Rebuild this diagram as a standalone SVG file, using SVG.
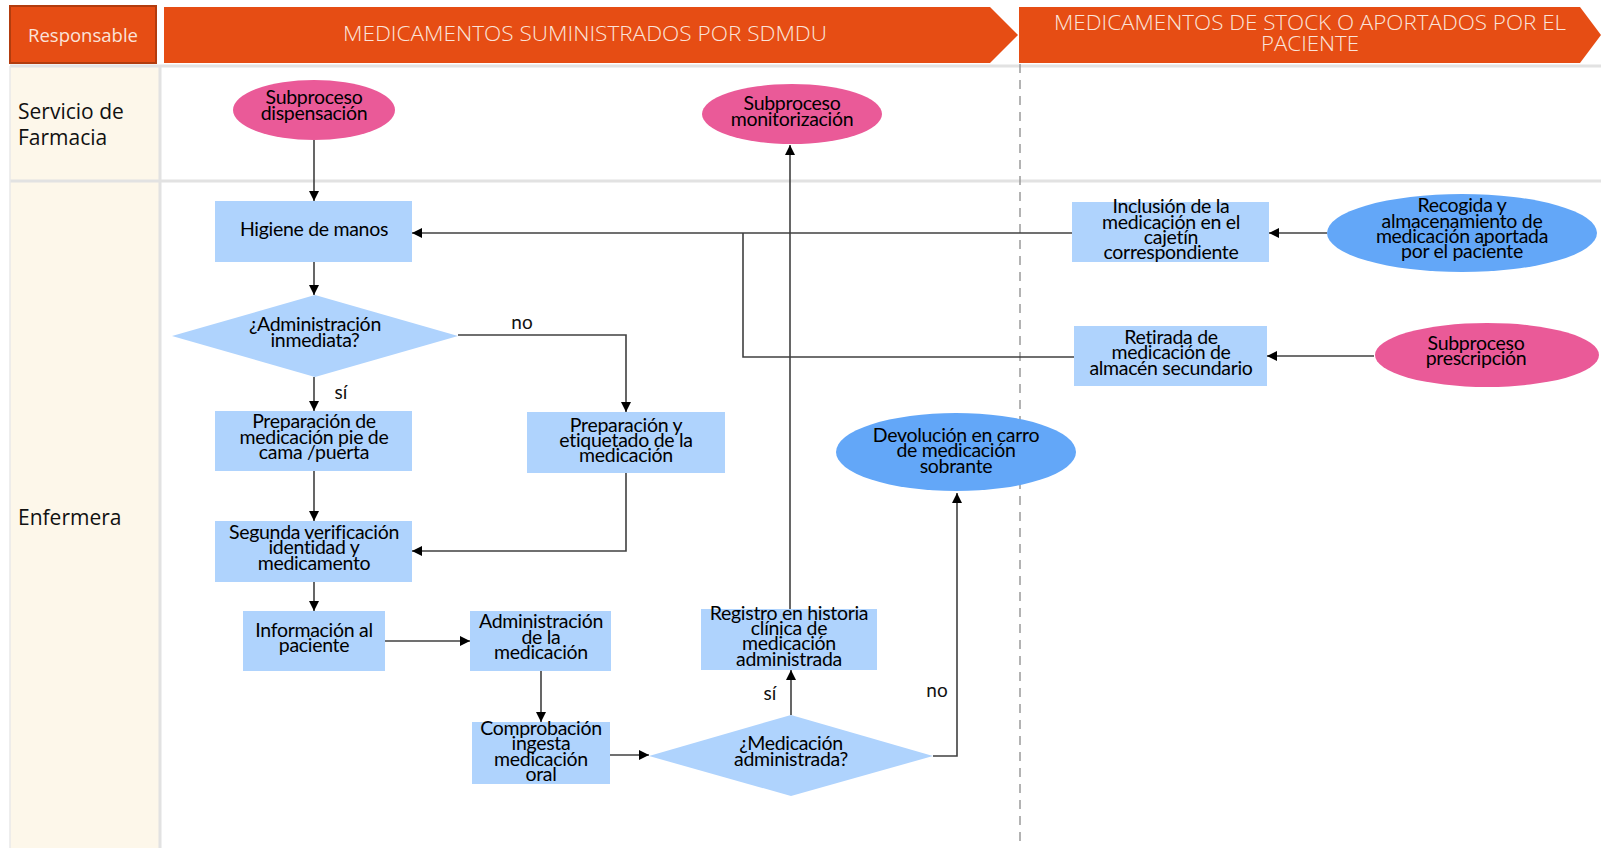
<svg xmlns="http://www.w3.org/2000/svg" width="1601" height="848" viewBox="0 0 1601 848">
<defs>
<marker id="ah" viewBox="0 0 10 10" refX="10" refY="5" markerWidth="10" markerHeight="10" markerUnits="userSpaceOnUse" orient="auto">
<path d="M0,0 L10,5 L0,10 z" fill="#000"/>
</marker>
<style>
.hdr{fill:#E64D14}
.htxt{font-family:"Open Sans",sans-serif;font-weight:300;fill:#FBE3D9;font-size:21px;text-anchor:middle}
.lane{font-family:"Open Sans",sans-serif;font-size:21px;fill:#111}
.box{fill:#AFD3FD}
.pink{fill:#EA5A98}
.blue{fill:#63A7F8}
.t{font-family:Lato,"Open Sans",sans-serif;font-size:19.5px;fill:#000;text-anchor:middle;letter-spacing:-0.3px}
.lbl{font-family:Lato,"Open Sans",sans-serif;font-size:19px;fill:#111;text-anchor:middle}
.c{fill:none;stroke:#404040;stroke-width:1.6;marker-end:url(#ah)}
.cn{fill:none;stroke:#404040;stroke-width:1.6}
</style>
</defs>
<rect width="1601" height="848" fill="#fff"/>
<!-- lanes -->
<g id="lanes">
<rect x="10" y="66" width="149" height="782" fill="#FDF7EA"/>
<line x1="10" y1="66" x2="1601" y2="66" stroke="#E2E2E2" stroke-width="3"/>
<line x1="10" y1="181" x2="1601" y2="181" stroke="#E2E2E2" stroke-width="3"/>
<line x1="160" y1="66" x2="160" y2="848" stroke="#E2E2E2" stroke-width="3"/>
<line x1="10" y1="66" x2="10" y2="848" stroke="#E8E8E8" stroke-width="1.5"/>
<line x1="1020" y1="64" x2="1020" y2="848" stroke="#9A9A9A" stroke-width="1.5" stroke-dasharray="9,7"/>
<text class="lane" x="18" y="119">Servicio de</text>
<text class="lane" x="18" y="145">Farmacia</text>
<text class="lane" x="18" y="525">Enfermera</text>
</g>
<!-- header -->
<g id="header">
<rect x="10" y="6" width="146" height="57" class="hdr" stroke="#B23C0E" stroke-width="2"/>
<text x="83" y="42" font-family="Open Sans, sans-serif" font-size="18" fill="#FBE3D9" text-anchor="middle" textLength="110" lengthAdjust="spacingAndGlyphs">Responsable</text>
<path class="hdr" d="M164,7 H990 L1018,35 L990,63 H164 Z"/>
<text class="htxt" x="585" y="41" textLength="484" lengthAdjust="spacingAndGlyphs">MEDICAMENTOS SUMINISTRADOS POR SDMDU</text>
<path class="hdr" d="M1019,7 H1580 L1601,35 L1580,63 H1019 L1019,7 Z"/>
<text class="htxt" x="1310" y="30" textLength="512" lengthAdjust="spacingAndGlyphs">MEDICAMENTOS DE STOCK O APORTADOS POR EL</text>
<text class="htxt" x="1310" y="51" textLength="98" lengthAdjust="spacingAndGlyphs">PACIENTE</text>
</g>
<!-- connectors -->
<g id="connectors">
<path class="c" d="M314,140 V201"/>
<path class="c" d="M314,262 V295"/>
<path class="c" d="M314,377 V411"/>
<path class="c" d="M458,335 H626 V412"/>
<path class="c" d="M314,471 V521"/>
<path class="c" d="M626,473 V551 H412"/>
<path class="c" d="M314,582 V611"/>
<path class="c" d="M385,641 H470"/>
<path class="c" d="M541,671 V722"/>
<path class="c" d="M610,755 H649"/>
<path class="c" d="M791,715 V670"/>
<path class="c" d="M790,609 V145"/>
<path class="c" d="M933,756 H957 V493"/>
<path class="c" d="M1327,233 H1269"/>
<path class="c" d="M1072,233 H412"/>
<path class="c" d="M1374,356 H1267"/>
<path class="cn" d="M1074,357 H743 V233"/>
<text class="lbl" x="522" y="329">no</text>
<text class="lbl" x="341" y="399">sí</text>
<text class="lbl" x="770" y="700">sí</text>
<text class="lbl" x="937" y="697">no</text>
</g>
<!-- nodes -->
<g id="n-dispensacion">
<ellipse cx="314" cy="110" rx="81" ry="30" class="pink"/>
<text class="t" x="314" y="104">Subproceso</text>
<text class="t" x="314" y="120">dispensación</text>
</g>
<g id="n-monitorizacion">
<ellipse cx="792" cy="114" rx="90" ry="30" class="pink"/>
<text class="t" x="792" y="110">Subproceso</text>
<text class="t" x="792" y="126">monitorización</text>
</g>
<g id="n-higiene">
<rect x="215" y="201" width="197" height="61" class="box"/>
<text class="t" x="314" y="236">Higiene de manos</text>
</g>
<g id="n-admin-inmediata">
<path d="M172,336 L315,295 L458,336 L315,377 Z" class="box"/>
<text class="t" x="315" y="331">¿Administración</text>
<text class="t" x="315" y="347">inmediata?</text>
</g>
<g id="n-prep-cama">
<rect x="215" y="411" width="197" height="60" class="box"/>
<text class="t" x="314" y="428">Preparación de</text>
<text class="t" x="314" y="444">medicación pie de</text>
<text class="t" x="314" y="459">cama /puerta</text>
</g>
<g id="n-prep-etiquetado">
<rect x="527" y="412" width="198" height="61" class="box"/>
<text class="t" x="626" y="432">Preparación y</text>
<text class="t" x="626" y="447">etiquetado de la</text>
<text class="t" x="626" y="462">medicación</text>
</g>
<g id="n-segunda">
<rect x="215" y="521" width="197" height="61" class="box"/>
<text class="t" x="314" y="539">Segunda verificación</text>
<text class="t" x="314" y="554">identidad y</text>
<text class="t" x="314" y="570">medicamento</text>
</g>
<g id="n-informacion">
<rect x="243" y="611" width="142" height="60" class="box"/>
<text class="t" x="314" y="637">Información al</text>
<text class="t" x="314" y="652">paciente</text>
</g>
<g id="n-administracion">
<rect x="470" y="611" width="141" height="60" class="box"/>
<text class="t" x="541" y="628">Administración</text>
<text class="t" x="541" y="644">de la</text>
<text class="t" x="541" y="659">medicación</text>
</g>
<g id="n-comprobacion">
<rect x="472" y="722" width="138" height="62" class="box"/>
<text class="t" x="541" y="735">Comprobación</text>
<text class="t" x="541" y="750">ingesta</text>
<text class="t" x="541" y="766">medicación</text>
<text class="t" x="541" y="781">oral</text>
</g>
<g id="n-med-administrada">
<path d="M649,756 L791,715 L933,756 L791,796 Z" class="box"/>
<text class="t" x="791" y="750">¿Medicación</text>
<text class="t" x="791" y="766">administrada?</text>
</g>
<g id="n-registro">
<rect x="701" y="609" width="176" height="61" class="box"/>
<text class="t" x="789" y="620">Registro en historia</text>
<text class="t" x="789" y="635">clínica de</text>
<text class="t" x="789" y="650">medicación</text>
<text class="t" x="789" y="666">administrada</text>
</g>
<g id="n-devolucion">
<ellipse cx="956" cy="452" rx="120" ry="39" class="blue"/>
<text class="t" x="956" y="442">Devolución en carro</text>
<text class="t" x="956" y="457">de medicación</text>
<text class="t" x="956" y="473">sobrante</text>
</g>
<g id="n-inclusion">
<rect x="1072" y="202" width="197" height="60" class="box"/>
<text class="t" x="1171" y="213">Inclusión de la</text>
<text class="t" x="1171" y="229">medicación en el</text>
<text class="t" x="1171" y="244">cajetín</text>
<text class="t" x="1171" y="259">correspondiente</text>
</g>
<g id="n-recogida">
<ellipse cx="1462" cy="233" rx="135" ry="39" class="blue"/>
<text class="t" x="1462" y="212">Recogida y</text>
<text class="t" x="1462" y="228">almacenamiento de</text>
<text class="t" x="1462" y="243">medicación aportada</text>
<text class="t" x="1462" y="258">por el paciente</text>
</g>
<g id="n-retirada">
<rect x="1074" y="326" width="193" height="60" class="box"/>
<text class="t" x="1171" y="344">Retirada de</text>
<text class="t" x="1171" y="359">medicación de</text>
<text class="t" x="1171" y="375">almacén secundario</text>
</g>
<g id="n-prescripcion">
<ellipse cx="1487" cy="355" rx="112" ry="32" class="pink"/>
<text class="t" x="1476" y="350">Subproceso</text>
<text class="t" x="1476" y="365">prescripción</text>
</g>
</svg>
